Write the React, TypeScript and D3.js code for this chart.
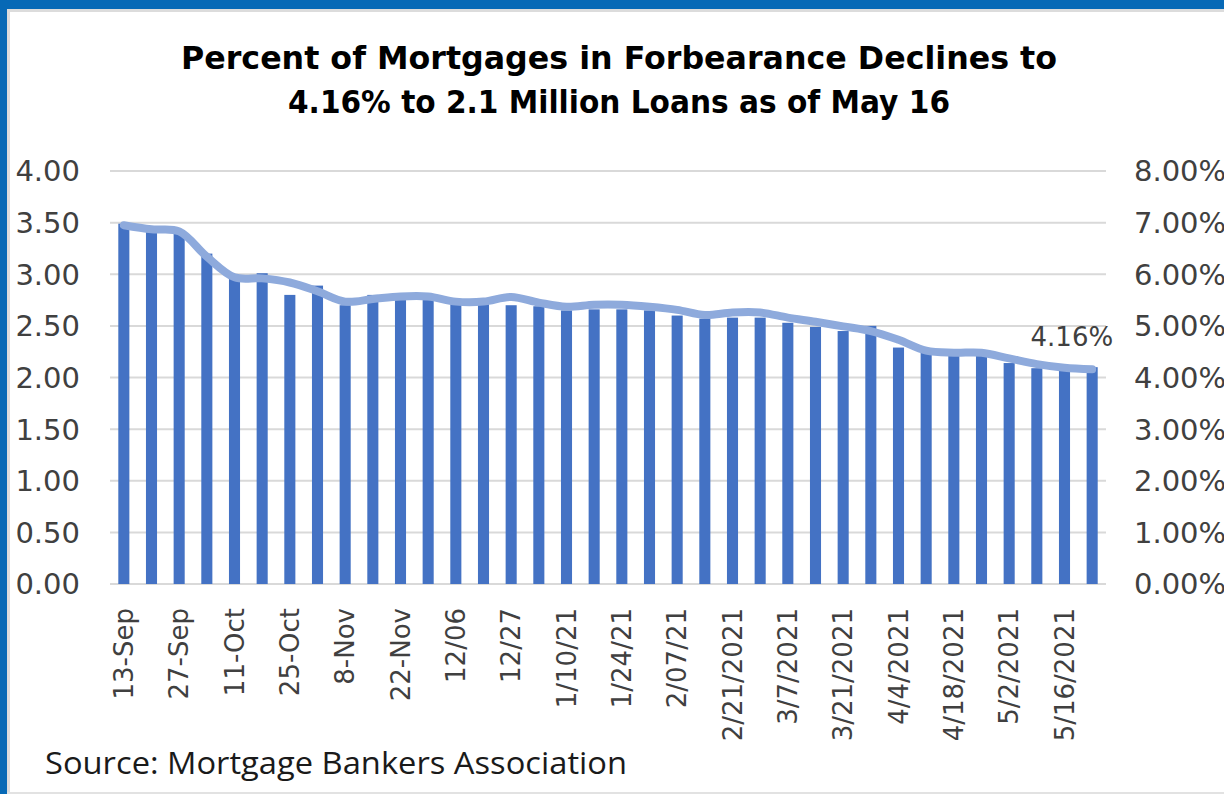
import React from "react";
import * as d3 from "d3";

const categories = [
  "13-Sep", "20-Sep", "27-Sep", "4-Oct", "11-Oct", "18-Oct", "25-Oct", "1-Nov", "8-Nov", "15-Nov",
  "22-Nov", "29-Nov", "12/06", "12/13", "12/27", "1/03/21", "1/10/21", "1/17/21", "1/24/21", "1/31/21",
  "2/07/21", "2/14/21", "2/21/2021", "2/28/2021", "3/7/2021", "3/14/2021", "3/21/2021", "3/28/2021", "4/4/2021", "4/11/2021",
  "4/18/2021", "4/25/2021", "5/2/2021", "5/9/2021", "5/16/2021", "5/23/2021",
];

// Loans in forbearance (millions) - bars, left axis
const loans = [
  3.49, 3.44, 3.40, 3.20, 2.97, 3.01, 2.80, 2.89, 2.70, 2.80,
  2.75, 2.75, 2.71, 2.71, 2.70, 2.69, 2.65, 2.66, 2.66, 2.65,
  2.60, 2.57, 2.58, 2.58, 2.53, 2.49, 2.45, 2.50, 2.29, 2.24,
  2.22, 2.22, 2.14, 2.09, 2.07, 2.10,
];

// Percent of mortgages in forbearance - line, right axis
const share = [
  6.95, 6.87, 6.83, 6.34, 5.94, 5.92, 5.84, 5.67, 5.47, 5.52,
  5.57, 5.57, 5.47, 5.47, 5.56, 5.45, 5.37, 5.41, 5.41, 5.37,
  5.31, 5.21, 5.26, 5.26, 5.16, 5.08, 4.99, 4.90, 4.73, 4.52,
  4.48, 4.48, 4.37, 4.26, 4.19, 4.16,
];

const leftTicks = [0, 0.5, 1, 1.5, 2, 2.5, 3, 3.5, 4];
const rightTicks = [0, 1, 2, 3, 4, 5, 6, 7, 8];
const titleLines = [
  "Percent of Mortgages in Forbearance Declines to",
  "4.16% to 2.1 Million Loans as of May 16",
];
const sourceText = "Source: Mortgage Bankers Association";
const lastLabel = "4.16%";

const W = 1224;
const H = 794;
const plot = { left: 110, right: 1106, top: 171, bottom: 584 };

export default function App() {
  const x = d3
    .scaleBand<string>()
    .domain(categories)
    .range([plot.left, plot.right])
    .paddingInner(0.6)
    .paddingOuter(0.3);
  const yL = d3.scaleLinear().domain([0, 4]).range([plot.bottom, plot.top]);
  const yR = d3.scaleLinear().domain([0, 8]).range([plot.bottom, plot.top]);
  const cx = (c: string) => (x(c) as number) + x.bandwidth() / 2;

  const line = d3
    .line<number>()
    .x((_, i) => cx(categories[i]))
    .y((d) => yR(d))
    .curve(d3.curveCatmullRom.alpha(0.5));

  const axisFont = "'DejaVu Sans', sans-serif";
  const textColor = "#404040";
  const lastCat = categories[categories.length - 1];

  return (
    <svg
      width={W}
      height={H}
      style={{ position: "absolute", left: 0, top: 0, background: "#fff" }}
    >
      <rect x={0} y={0} width={W} height={H} fill="#fff" />
      {/* frame */}
      <rect x={0} y={0} width={W} height={9} fill="#0769b6" />
      <rect x={0} y={0} width={7} height={H} fill="#0769b6" />
      <rect x={7} y={9} width={W - 7} height={3} fill="#dcdcdc" />
      <rect x={7} y={9} width={3} height={H - 9} fill="#dcdcdc" />
      <rect x={7} y={792} width={W - 7} height={2} fill="#e2e2e2" />

      {/* title */}
      {titleLines.map((t, i) => (
        <text
          key={i}
          x={619}
          y={69 + i * 43.5}
          textAnchor="middle"
          fontFamily="'DejaVu Sans', sans-serif"
          fontWeight="bold"
          fontSize={32}
          fill="#000"
          textLength={i === 0 ? 876 : 662}
          lengthAdjust="spacingAndGlyphs"
        >
          {t}
        </text>
      ))}

      {/* gridlines */}
      {leftTicks.map((t) => (
        <line
          key={t}
          x1={plot.left}
          x2={plot.right}
          y1={yL(t)}
          y2={yL(t)}
          stroke="#d9d9d9"
          strokeWidth={2}
        />
      ))}

      {/* left axis labels */}
      {leftTicks.map((t) => (
        <text
          key={"l" + t}
          x={80}
          y={yL(t)}
          dy="0.36em"
          textAnchor="end"
          fontFamily={axisFont}
          fontSize={29}
          fill={textColor}
        >
          {d3.format(".2f")(t)}
        </text>
      ))}

      {/* right axis labels */}
      {rightTicks.map((t) => (
        <text
          key={"r" + t}
          x={1134}
          y={yR(t)}
          dy="0.36em"
          textAnchor="start"
          fontFamily={axisFont}
          fontSize={29}
          fill={textColor}
        >
          {d3.format(".2f")(t) + "%"}
        </text>
      ))}

      {/* bars */}
      {loans.map((v, i) => (
        <rect
          key={i}
          x={x(categories[i])}
          y={yL(v)}
          width={x.bandwidth()}
          height={yL(0) - yL(v)}
          fill="#4472c4"
        />
      ))}

      {/* line */}
      <path
        d={line(share) || ""}
        fill="none"
        stroke="#8eaadc"
        strokeWidth={8}
        strokeLinecap="round"
        strokeLinejoin="round"
      />

      {/* last value label */}
      <text
        x={cx(lastCat) + 21}
        y={yR(share[share.length - 1]) - 23}
        textAnchor="end"
        fontFamily={axisFont}
        fontSize={26}
        fill={textColor}
      >
        {lastLabel}
      </text>

      {/* x labels */}
      {categories.map((c, i) =>
        i % 2 === 0 ? (
          <text
            key={c}
            transform={`translate(${cx(c)},608) rotate(-90)`}
            dy="0.35em"
            textAnchor="end"
            fontFamily={axisFont}
            fontSize={26}
            fill={textColor}
          >
            {c}
          </text>
        ) : null
      )}

      {/* source */}
      <text
        x={45}
        y={774}
        fontFamily="'Open Sans', sans-serif"
        fontSize={31}
        fill="#1a1a1a"
        textLength={582}
        lengthAdjust="spacingAndGlyphs"
      >
        {sourceText}
      </text>
    </svg>
  );
}
